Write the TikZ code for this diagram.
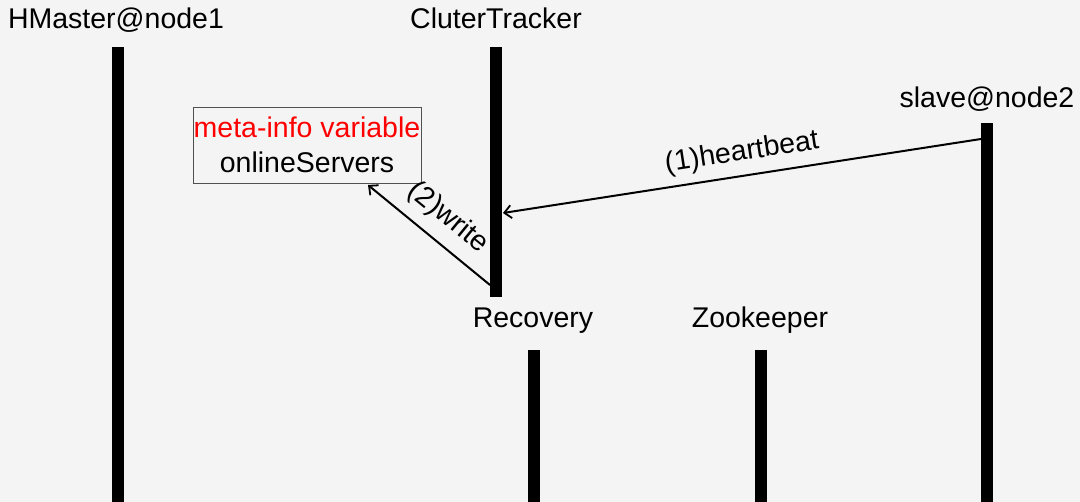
\documentclass[tikz,border=0pt]{standalone}
\usepackage{fontspec}
\setmainfont{Liberation Sans}
\usetikzlibrary{arrows.meta}
\definecolor{bg}{HTML}{F4F4F4}
\definecolor{boxline}{HTML}{505050}
\tikzset{
  lbl/.style={anchor=base, inner sep=0pt, font=\fontsize{28.5}{34}\selectfont},
  lifeline/.style={fill=black, draw=none, minimum width=12pt, inner sep=0pt, anchor=north},
  msg/.style={line width=2pt, -{Straight Barb[length=7pt,width=13pt,line width=1.8pt]}},
  msglbl/.style={font=\fontsize{28.5}{34}\selectfont, inner sep=0pt}
}
\begin{document}
\begin{tikzpicture}[x=1pt, y=-1pt]
  % canvas
  \fill[bg] (0,0) rectangle (1080,502);
  \useasboundingbox (0,0) rectangle (1080,502);

  % participant names
  \node[lbl] (hmLbl)  at (116,29)  {HMaster@node1};
  \node[lbl] (ctLbl)  at (496,29)  {CluterTracker};
  \node[lbl] (slLbl)  at (987,108) {slave@node2};
  \node[lbl] (rcLbl)  at (533,328) {Recovery};
  \node[lbl] (zkLbl)  at (760,328) {Zookeeper};

  % lifelines
  \node[lifeline, minimum height=455pt] (hm) at (118,47)  {};
  \node[lifeline, minimum height=250pt] (ct) at (496,47)  {};
  \node[lifeline, minimum height=379pt] (sl) at (987,123) {};
  \node[lifeline, minimum height=152pt] (rc) at (533.5,350) {};
  \node[lifeline, minimum height=152pt] (zk) at (760.5,350) {};

  % meta-info box
  \node[draw=boxline, line width=1pt, minimum width=228pt, minimum height=76pt,
        inner sep=0pt, fill=none] (box) at (307,146) {};
  \node[lbl, text=red] (boxTop) at (307,138) {meta-info variable};
  \node[lbl] (boxBot) at (307,173) {onlineServers};

  % message end points on the lifelines and the box
  \coordinate (hbFrom) at (981,139);
  \coordinate (hbTo)   at (503,213);
  \coordinate (wFrom)  at (490,285);
  \coordinate (wTo)    at (368,185);

  % (1) heartbeat
  \draw[msg] (hbFrom) -- (hbTo);
  \node[msglbl, rotate=8.8] (hbLbl) at (742,153) {(1)heartbeat};

  % (2) write
  \draw[msg] (wFrom) -- (wTo);
  \node[msglbl, rotate=-39.3] (wLbl) at (448,218) {(2)write};
\end{tikzpicture}
\end{document}
